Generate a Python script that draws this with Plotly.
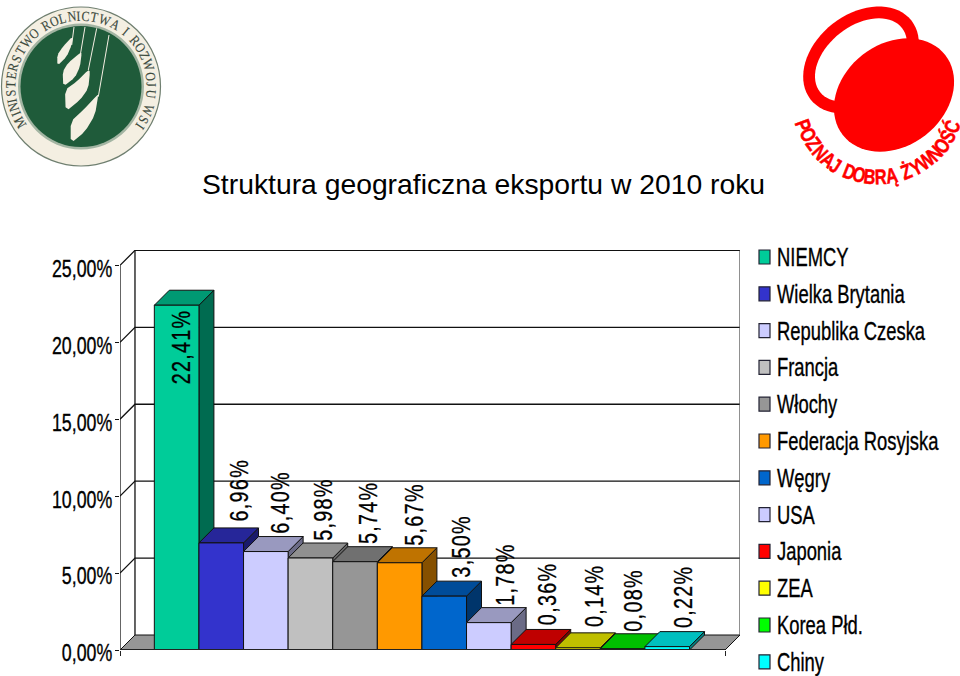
import json
import numpy as np
import plotly.graph_objects as go

# ---------- data ----------
categories = ["NIEMCY", "Wielka Brytania", "Republika Czeska", "Francja", "Włochy",
              "Federacja Rosyjska", "Węgry", "USA", "Japonia", "ZEA", "Korea Płd.", "Chiny"]
values = [22.41, 6.96, 6.40, 5.98, 5.74, 5.67, 3.50, 1.78, 0.36, 0.14, 0.08, 0.22]
value_labels = ["22,41%", "6,96%", "6,40%", "5,98%", "5,74%", "5,67%",
                "3,50%", "1,78%", "0,36%", "0,14%", "0,08%", "0,22%"]
tick_values = [0, 5, 10, 15, 20, 25]
tick_labels = ["0,00%", "5,00%", "10,00%", "15,00%", "20,00%", "25,00%"]
title_text = "Struktura geograficzna eksportu w 2010 roku"

# ---------- styles ----------
front_colors = ["#00CC99", "#3333CC", "#CCCCFF", "#C0C0C0", "#969696", "#FF9900",
                "#0066CC", "#CCCCFF", "#FF0000", "#FFFF00", "#00FF00", "#00FFFF"]
top_colors = ["#009973", "#262699", "#9999BF", "#909090", "#707070", "#BF7300",
              "#004C99", "#9999BF", "#BF0000", "#BFBF00", "#00BF00", "#00BFBF"]
side_colors = ["#006B50", "#1A1A6B", "#6B6B86", "#656565", "#4E4E4E", "#865000",
               "#00356B", "#6B6B86", "#860000", "#868600", "#008600", "#008686"]
label_dx = [4, 18, 14, 12, 13, 15, 16, 16, 14, 16, 11, 16]
label_dy = [-85, 16, 13, 12, 12, 12, 13, 12, 14, 15, 12, 13]

FONT = "Liberation Sans, Arial, sans-serif"
X_MIN, X_FRONT, DX, DY, Y_MAX = -1.27, 12.296, 0.336, 0.975, 26.0
L, R, T, B = 120, 740, 250, 650


def px(x, y):
    return (x - L) / (R - L), (B - y) / (B - T)


def path(points, close=True):
    s = ""
    for i, (a, b) in enumerate(points):
        u, v = px(a, b)
        s += ("M" if i == 0 else "L") + f"{u:.5f},{v:.5f}"
    return s + ("Z" if close else "")


def ellipse(cx, cy, a, b, rot):
    t = np.linspace(0, 2 * np.pi, 72, endpoint=False)
    r = np.radians(rot)
    xs = cx + a * np.cos(t) * np.cos(r) - b * np.sin(t) * np.sin(r)
    ys = cy + a * np.cos(t) * np.sin(r) + b * np.sin(t) * np.cos(r)
    return list(zip(xs, ys))


def smooth(points):
    out = []
    n = len(points)
    for i in range(n):
        p, q = points[i], points[(i + 1) % n]
        out.append((0.8 * p[0] + 0.2 * q[0], 0.8 * p[1] + 0.2 * q[1]))
        out.append((0.2 * p[0] + 0.8 * q[0], 0.2 * p[1] + 0.8 * q[1]))
    return out


def arc_angles(text, start, end, weights, blank):
    w = [blank if c == " " else weights.get(c, 1.0) for c in text]
    edges = np.cumsum([0] + w)
    centres = (edges[:-1] + edges[1:]) / 2
    return start + (centres - centres[0]) / (centres[-1] - centres[0]) * (end - start)


fig = go.Figure()
WALL = dict(color="#111111", width=1.3)


def line_trace(xs, ys, line=WALL, xaxis="x", yaxis="y"):
    fig.add_trace(go.Scatter(x=xs, y=ys, mode="lines", line=line, hoverinfo="skip",
                             showlegend=False, cliponaxis=False, xaxis=xaxis, yaxis=yaxis))


def face(xs, ys, fill, lw=1):
    fig.add_trace(go.Scatter(x=xs, y=ys, mode="lines", fill="toself", fillcolor=fill,
                             line=dict(color="#111111", width=lw), hoverinfo="skip",
                             showlegend=False, cliponaxis=False))


# floor
face([X_MIN, X_MIN + DX, X_FRONT + DX, X_FRONT], [0, DY, DY, 0], "#969696")
# grid on back and left walls
gx, gy = [], []
for v in tick_values[1:]:
    gx += [X_MIN, X_MIN + DX, X_FRONT + DX, None]
    gy += [v, v + DY, v + DY, None]
line_trace(gx, gy)
line_trace([X_MIN + DX, X_MIN + DX], [DY, 25 + DY])
line_trace([X_FRONT + DX, X_FRONT + DX], [DY, 25 + DY], dict(color="#555555", width=1.3))
line_trace([X_MIN, X_MIN], [0, 25])

# side and top faces, left to right
for i, v in enumerate(values):
    a, b = i - 0.5, i + 0.5
    face([b, b + DX, b + DX, b, b], [0, DY, v + DY, v, 0], side_colors[i])
    face([a, a + DX, b + DX, b, a], [v, v + DY, v + DY, v, v], top_colors[i])

# front faces
fig.add_trace(go.Bar(x=list(range(len(values))), y=values, width=1, xaxis="x2", yaxis="y2",
                     marker=dict(color=front_colors, line=dict(color="#111111", width=1)),
                     hovertext=categories, showlegend=False))
line_trace([X_MIN, X_FRONT], [0, 0], dict(color="#222222", width=2), "x2", "y2")

# ---------- annotations ----------
ann = []
for i, v in enumerate(values):
    ann.append(dict(x=i, y=v, xref="x2", yref="y2", text=value_labels[i], showarrow=False,
                    textangle=-90, xanchor="center", yanchor="bottom",
                    xshift=label_dx[i], yshift=label_dy[i], borderpad=0,
                    font=dict(family=FONT, size=25, color="black")))

shapes = []
ROW0, PITCH = 257, 36.8
for i, c in enumerate(categories):
    yc = ROW0 + i * PITCH
    u, v = px(775.5, yc)
    ann.append(dict(x=u, y=v, xref="paper", yref="paper", text=c, showarrow=False,
                    xanchor="left", yanchor="middle", align="left", borderpad=0,
                    font=dict(family=FONT, size=25, color="black")))
    u0, v0 = px(759, yc - 7)
    u1, v1 = px(770, yc + 7)
    shapes.append(dict(type="rect", xref="paper", yref="paper", x0=u0, x1=u1, y0=v0, y1=v1,
                       fillcolor=front_colors[i], line=dict(color="#222233", width=1.2)))


def circle(cx, cy, r, fill, line=None):
    u0, v0 = px(cx - r, cy + r)
    u1, v1 = px(cx + r, cy - r)
    shapes.append(dict(type="circle", xref="paper", yref="paper", x0=u0, x1=u1, y0=v0, y1=v1,
                       fillcolor=fill, line=line or dict(width=0)))


def poly(points, fill):
    shapes.append(dict(type="path", xref="paper", yref="paper", path=path(points),
                       fillcolor=fill, line=dict(width=0)))


# left logo
CREAM = "#F4EFE2"
circle(81, 86.5, 79.5, CREAM, dict(color="#6F7F70", width=1.2))
circle(81, 86.5, 63, "#A3B5A3")
circle(81, 86.5, 60.5, "#1F5B3A")
lobes = [
    [(72.7, 36), (63, 46.7), (57.3, 55), (57.3, 65.7), (66.7, 56.7), (71.7, 45)],
    [(80, 53), (68, 63), (62.7, 71.7), (63.3, 86.7), (75, 77.3), (80, 66.7), (81.7, 53)],
    [(88.3, 70), (76.7, 81.7), (65, 90), (65.7, 111.7), (80, 100), (88.3, 88.3), (90, 71.7)],
    [(97.3, 95), (83.3, 110), (70.7, 121.7), (70.7, 143.3), (85, 131.7), (95, 115), (98.3, 95)],
]
for lobe in lobes:
    poly(smooth(lobe), CREAM)
for p0, p1 in [((74, 27), (71.7, 45)), ((85, 27), (80, 56.7)),
               ((96.7, 28.3), (88.3, 70)), ((109, 35), (98.3, 96.7))]:
    shapes.append(dict(type="path", xref="paper", yref="paper", path=path([p0, p1], False),
                       line=dict(color=CREAM, width=1)))

ring_text = "MINISTERSTWO ROLNICTWA I ROZWOJU WSI"
for ch, th in zip(ring_text, arc_angles(ring_text, -120, 124, {"W": 1.4, "M": 1.3, "I": 0.6}, 0.6)):
    if ch == " ":
        continue
    r = np.radians(th)
    u, v = px(81 + 70.5 * np.sin(r), 86.5 - 70.5 * np.cos(r))
    ann.append(dict(x=u, y=v, xref="paper", yref="paper", text=ch, showarrow=False,
                    xanchor="center", yanchor="middle",
                    textangle=float(th), borderpad=0,
                    font=dict(family="Liberation Serif, serif", size=14, color="#3C4A3E")))

# right logo
RED = "#FF0000"
poly(ellipse(861, 60, 64, 46, -38), RED)
poly(ellipse(861, 60, 52, 34, -38), "white")
poly(ellipse(894, 95, 65, 51, -38), RED)

logo_text = "POZNAJ DOBRĄ ŻYWNOŚĆ"
for ch, th in zip(logo_text, arc_angles(logo_text, -70, 69, {"I": 0.6, "J": 0.8, "W": 1.2}, 0.45)):
    if ch == " ":
        continue
    r = np.radians(th)
    u, v = px(878 + 79 * np.sin(r), 98 + 79 * np.cos(r))
    ann.append(dict(x=u, y=v, xref="paper", yref="paper", text=ch, showarrow=False,
                    xanchor="center", yanchor="middle",
                    textangle=float(-th), borderpad=0,
                    font=dict(family=FONT, size=21, color=RED, weight="bold")))

# title
u, v = px(483, 184)
ann.append(dict(x=u, y=v, xref="paper", yref="paper", text=title_text, showarrow=False,
                xanchor="center", yanchor="middle", borderpad=0,
                font=dict(family=FONT, size=28.3, color="black")))

fig.update_layout(
    width=960, height=676, autosize=False, showlegend=False,
    margin=dict(l=L, r=960 - R, t=T, b=676 - B, autoexpand=False),
    paper_bgcolor="white", plot_bgcolor="white", barmode="overlay",
    xaxis=dict(range=[X_MIN, X_FRONT + DX], showgrid=False, zeroline=False, showline=False,
               tickmode="array", tickvals=[X_MIN, X_FRONT], ticks="outside", ticklen=5,
               tickcolor="#222222", tickwidth=1.2, showticklabels=False),
    yaxis=dict(range=[0, Y_MAX], showgrid=False, zeroline=False, showline=False,
               tickmode="array", tickvals=tick_values, ticktext=tick_labels,
               ticks="outside", ticklen=4, tickcolor="#111111", tickwidth=1.2,
               ticklabelshift=3, ticklabelstandoff=-2,
               tickfont=dict(family=FONT, size=24, color="black")),
    xaxis2=dict(range=[X_MIN, X_FRONT + DX], overlaying="x", visible=False, anchor="y2"),
    yaxis2=dict(range=[0, Y_MAX], overlaying="y", visible=False, anchor="x2"),
    annotations=ann, shapes=shapes,
)

# The reference's lettering is condensed; no narrow face is installed, so the real text
# elements are squeezed horizontally in the browser.
squeeze = {t: [0.74, 0, 0.35] for t in tick_labels}
squeeze.update({t: [0.88, 1.6, 0.3] for t in value_labels})
squeeze.update({t: [0.735, 0, 0.35] for t in categories})
post = """
document.body.style.margin='0';
document.documentElement.style.overflow='hidden';
(function(){
  var gd=document.getElementById('{plot_id}');
  var map=%s;
  function run(){
    gd.querySelectorAll('.ytick text, .annotation-text').forEach(function(el){
      if(el.getAttribute('data-sq')) return;
      var t=el.textContent, s=map[t];
      if(!s && t.length==1){
        s=String(el.style.fill).indexOf('255, 0, 0')>=0 ? [0.78,0,0.5] : [0.85,0,0.15];
      }
      if(!s) return;
      var n=el.getComputedTextLength();
      if(!n) return;
      if(s[1]) el.setAttribute('letter-spacing',s[1]);
      el.setAttribute('textLength',(n*s[0]).toFixed(2));
      el.setAttribute('lengthAdjust','spacingAndGlyphs');
      el.style.stroke=el.style.fill;
      el.style.strokeWidth=s[2]+'px';
      el.setAttribute('data-sq','1');
    });
  }
  run(); setTimeout(run,100); setTimeout(run,500);
})();
""" % json.dumps(squeeze, ensure_ascii=False)

fig.write_html("out.html", post_script=post, config={"displayModeBar": False})
